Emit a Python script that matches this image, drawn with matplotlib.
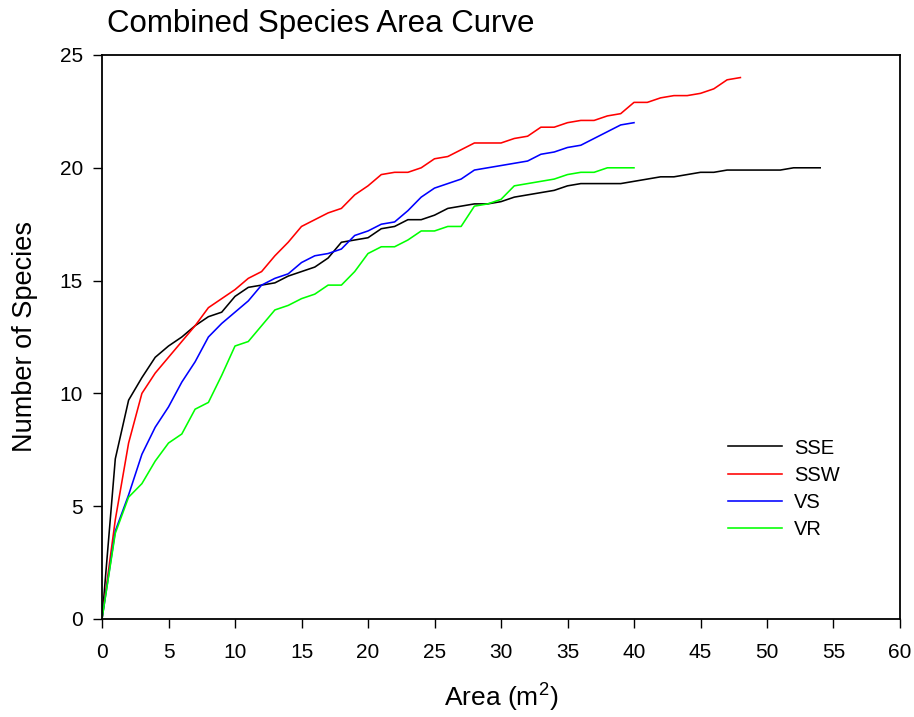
#!/usr/bin/env python3
"""Combined species-area curves for the four sites."""

import matplotlib
matplotlib.use("Agg")
import matplotlib.pyplot as plt

plt.rcParams["font.family"] = ["Liberation Sans", "DejaVu Sans"]
plt.rcParams["mathtext.default"] = "regular"

# Cumulative species counts at each area step (m^2)
sse = [0, 7.1, 9.7, 10.7, 11.6, 12.1, 12.5, 13.0, 13.4, 13.6, 14.3, 14.7, 14.8,
       14.9, 15.2, 15.4, 15.6, 16.0, 16.7, 16.8, 16.9, 17.3, 17.4, 17.7, 17.7,
       17.9, 18.2, 18.3, 18.4, 18.4, 18.5, 18.7, 18.8, 18.9, 19.0, 19.2, 19.3,
       19.3, 19.3, 19.3, 19.4, 19.5, 19.6, 19.6, 19.7, 19.8, 19.8, 19.9, 19.9,
       19.9, 19.9, 19.9, 20.0, 20.0, 20.0]
ssw = [0, 4.4, 7.8, 10.0, 10.9, 11.6, 12.3, 13.0, 13.8, 14.2, 14.6, 15.1, 15.4,
       16.1, 16.7, 17.4, 17.7, 18.0, 18.2, 18.8, 19.2, 19.7, 19.8, 19.8, 20.0,
       20.4, 20.5, 20.8, 21.1, 21.1, 21.1, 21.3, 21.4, 21.8, 21.8, 22.0, 22.1,
       22.1, 22.3, 22.4, 22.9, 22.9, 23.1, 23.2, 23.2, 23.3, 23.5, 23.9, 24.0]
vs = [0, 3.9, 5.5, 7.3, 8.5, 9.4, 10.5, 11.4, 12.5, 13.1, 13.6, 14.1, 14.8,
      15.1, 15.3, 15.8, 16.1, 16.2, 16.4, 17.0, 17.2, 17.5, 17.6, 18.1, 18.7,
      19.1, 19.3, 19.5, 19.9, 20.0, 20.1, 20.2, 20.3, 20.6, 20.7, 20.9, 21.0,
      21.3, 21.6, 21.9, 22.0]
vr = [0, 3.8, 5.4, 6.0, 7.0, 7.8, 8.2, 9.3, 9.6, 10.8, 12.1, 12.3, 13.0,
      13.7, 13.9, 14.2, 14.4, 14.8, 14.8, 15.4, 16.2, 16.5, 16.5, 16.8, 17.2,
      17.2, 17.4, 17.4, 18.3, 18.4, 18.6, 19.2, 19.3, 19.4, 19.5, 19.7, 19.8,
      19.8, 20.0, 20.0, 20.0]

series = [("SSE", sse, "#000000"), ("SSW", ssw, "#ff0000"),
          ("VS", vs, "#0000ff"), ("VR", vr, "#00ff00")]

fig = plt.figure(figsize=(9.14, 7.17), dpi=100)
ax = fig.add_axes([102 / 914, 1 - 619 / 717, 798 / 914, 564 / 717])

for name, vals, color in series:
    ax.plot(range(len(vals)), vals, color=color, lw=1.15, label=name)

ax.set_xlim(0, 60)
ax.set_ylim(0, 25)
ax.set_xticks(range(0, 61, 5))
ax.set_yticks(range(0, 26, 5))
ax.tick_params(direction="out", length=6.5, width=1, labelsize=15)
ax.tick_params(axis="x", pad=10.5)
ax.tick_params(axis="y", pad=7.2)
for sp in ax.spines.values():
    sp.set_linewidth(1.3)

ax.set_xlabel("Area (m$^2$)", fontsize=19)
ax.set_ylabel("Number of Species", fontsize=19.5)
ax.xaxis.set_label_coords(0.5, -0.112)
ax.yaxis.set_label_coords(-0.08, 0.5)

fig.text(107 / 914, 1 - 32 / 717, "Combined Species Area Curve",
         fontsize=22.5, ha="left", va="baseline")

ax.legend(loc="upper left", bbox_to_anchor=(0.784, 0.32), frameon=False,
          fontsize=14.5, handlelength=2.7, handletextpad=0.6,
          labelspacing=0.4, borderpad=0, borderaxespad=0)

fig.savefig("out.png", dpi=100)
